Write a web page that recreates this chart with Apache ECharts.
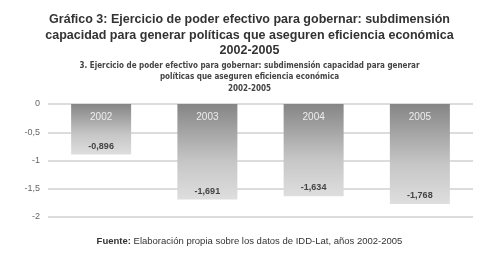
<!DOCTYPE html>
<html>
<head>
<meta charset="utf-8">
<script src="https://cdn.jsdelivr.net/npm/echarts@6/dist/echarts.min.js"></script>
<style>
html, body { margin: 0; padding: 0; background: #fff; }
#chartContainer { width: 499px; height: 258px; }
</style>
</head>
<body>
<div id="chartContainer"></div>
<script>
// datos del gráfico
var years = ['2002', '2003', '2004', '2005'];
var values = [-0.896, -1.691, -1.634, -1.768];
var yTicks = [0, -0.5, -1, -1.5, -2];

function comma(v) {
    return String(v).replace('.', ',');
}

var myChart = echarts.init(document.getElementById('chartContainer'));
var options = {
    animation: false,
    title: [
        {
            text: 'Gráfico 3: Ejercicio de poder efectivo para gobernar: subdimensión\ncapacidad para generar políticas que aseguren eficiencia económica\n2002-2005',
            left: 'center',
            top: 7,
            textStyle: {
                fontFamily: 'Liberation Sans',
                fontSize: 12.5,
                fontWeight: 'bold',
                color: '#333',
                lineHeight: 15.5
            }
        },
        {
            text: '3. Ejercicio de poder efectivo para gobernar: subdimensión capacidad para generar\npolíticas que aseguren eficiencia económica\n2002-2005',
            left: 'center',
            top: 55,
            textStyle: {
                fontFamily: 'DejaVu Sans Condensed',
                fontSize: 8,
                fontWeight: 'bold',
                color: '#444',
                lineHeight: 11.5
            }
        },
        {
            text: '{b|Fuente:} Elaboración propia sobre los datos de IDD-Lat, años 2002-2005',
            left: 'center',
            top: 231,
            textStyle: {
                fontFamily: 'Liberation Sans',
                fontSize: 9.5,
                fontWeight: 'normal',
                color: '#333',
                rich: {
                    b: { fontFamily: 'Liberation Sans', fontSize: 9.5, fontWeight: 'bold', color: '#333' }
                }
            }
        }
    ],
    grid: {
        left: 48,
        right: 26,
        top: 104,
        bottom: 41
    },
    xAxis: {
        type: 'category',
        position: 'top',
        data: years,
        z: 10,
        axisLine: { show: false },
        axisTick: { show: false },
        axisLabel: {
            inside: true,
            margin: 8,
            color: '#eeeeee',
            fontFamily: 'Liberation Sans',
            fontSize: 10
        }
    },
    yAxis: {
        type: 'value',
        min: -2,
        max: 0,
        interval: 0.5,
        axisLine: { show: false },
        axisTick: { show: false },
        axisLabel: {
            margin: 8,
            color: '#666',
            fontFamily: 'Liberation Sans',
            fontSize: 9,
            formatter: function (v) { return comma(v); }
        },
        splitLine: {
            lineStyle: { color: '#dcdcdc', width: 2 }
        }
    },
    series: [
        {
            type: 'bar',
            data: values,
            barWidth: 60,
            z: 3,
            itemStyle: {
                color: new echarts.graphic.LinearGradient(0, 0, 0, 1, [
                    { offset: 0, color: '#858585' },
                    { offset: 0.6, color: '#c6c6c6' },
                    { offset: 1, color: '#dedede' }
                ])
            },
            label: {
                show: true,
                position: 'insideBottom',
                distance: 4,
                color: '#444',
                fontFamily: 'Liberation Sans',
                fontWeight: 'bold',
                fontSize: 9,
                formatter: function (p) { return comma(p.value); }
            }
        }
    ]
};
myChart.setOption(options);
</script>
</body>
</html>
